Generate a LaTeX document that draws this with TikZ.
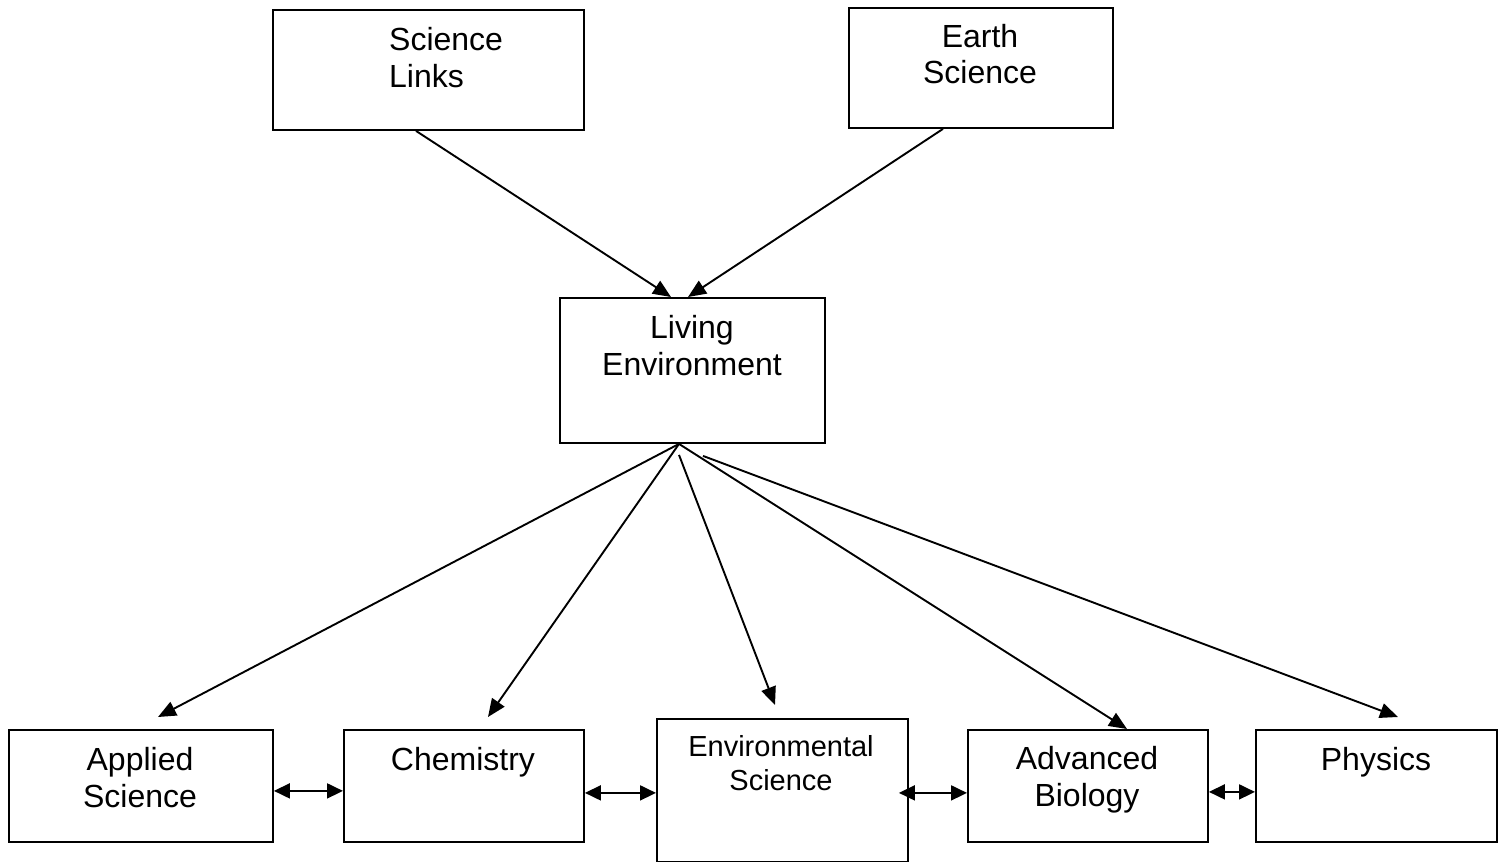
\documentclass[tikz,border=0pt]{standalone}
\usepackage{fontspec}
\setmainfont{Liberation Sans}
\usetikzlibrary{arrows.meta,calc}
\tikzset{
  box/.style={draw, line width=1.9pt, inner sep=0pt, anchor=north west},
  lbl/.style={inner sep=0pt, anchor=base, font=\fontsize{32}{37}\selectfont},
  lblsmall/.style={inner sep=0pt, anchor=base, font=\fontsize{29}{34}\selectfont},
  arr/.style={line width=1.9pt, -{Triangle[length=18pt,width=15pt]}},
  darr/.style={line width=1.9pt, {Triangle[length=16pt,width=15pt]}-{Triangle[length=16pt,width=15pt]}}
}
\begin{document}
\begin{tikzpicture}[x=1pt, y=-1pt]
\useasboundingbox (0,0) rectangle (1502,862);

% course boxes
\node[box, minimum width=311pt, minimum height=120pt] (sl) at (272,9) {};
\node[box, minimum width=264pt, minimum height=120pt] (es) at (848,7) {};
\node[box, minimum width=265pt, minimum height=145pt] (le) at (559,297) {};
\node[box, minimum width=264pt, minimum height=112pt] (ap) at (8,729) {};
\node[box, minimum width=240pt, minimum height=112pt] (ch) at (343,729) {};
\node[box, minimum width=251pt, minimum height=143pt] (en) at (656,718) {};
\node[box, minimum width=240pt, minimum height=112pt] (ab) at (967,729) {};
\node[box, minimum width=241pt, minimum height=112pt] (ph) at (1255,729) {};

% box labels
\node[lbl, anchor=base west] (slA) at (389,50) {Science};
\node[lbl, anchor=base west] (slB) at (389,87) {Links};
\node[lbl] (esA) at (980,47) {Earth};
\node[lbl] (esB) at (980,83) {Science};
\node[lbl] (leA) at (692,338) {Living};
\node[lbl] (leB) at (692,375) {Environment};
\node[lbl] (apA) at (140,770) {Applied};
\node[lbl] (apB) at (140,807) {Science};
\node[lbl] (chA) at (463,770) {Chemistry};
\node[lblsmall] (enA) at (781,756) {Environmental};
\node[lblsmall] (enB) at (781,790) {Science};
\node[lbl] (abA) at (1087,769) {Advanced};
\node[lbl] (abB) at (1087,806) {Biology};
\node[lbl] (phA) at (1376,770) {Physics};

% prerequisites into Living Environment
\draw[arr] ($(sl.south west)+(144,0)$) -- ($(le.north west)+(112,0)$);
\draw[arr] ($(es.south west)+(95,0)$) -- ($(le.north west)+(129,0)$);

% Living Environment to the advanced courses
\draw[arr] ($(le.south west)+(120,0)$) -- ($(ap.north west)+(150,-12)$);
\draw[arr] ($(le.south west)+(120,0)$) -- ($(ch.north west)+(145,-12)$);
\draw[arr] ($(le.south west)+(120,11)$) -- ($(en.north west)+(119,-13)$);
\draw[arr] ($(le.south west)+(120,0)$) -- ($(ab.north west)+(160,0)$);
\draw[arr] ($(le.south west)+(144,12)$) -- ($(ph.north west)+(143,-12)$);

% links between neighbouring courses
\draw[darr] ($(ap.south east)+(0,-52)$) -- ($(ch.south west)+(0,-52)$);
\draw[darr] ($(ch.south east)+(0,-50)$) -- ($(en.south west)+(0,-70)$);
\draw[darr] ($(en.south east)+(-10,-70)$) -- ($(ab.south west)+(0,-50)$);
\draw[darr] ($(ab.south east)+(0,-51)$) -- ($(ph.south west)+(0,-51)$);
\end{tikzpicture}
\end{document}
